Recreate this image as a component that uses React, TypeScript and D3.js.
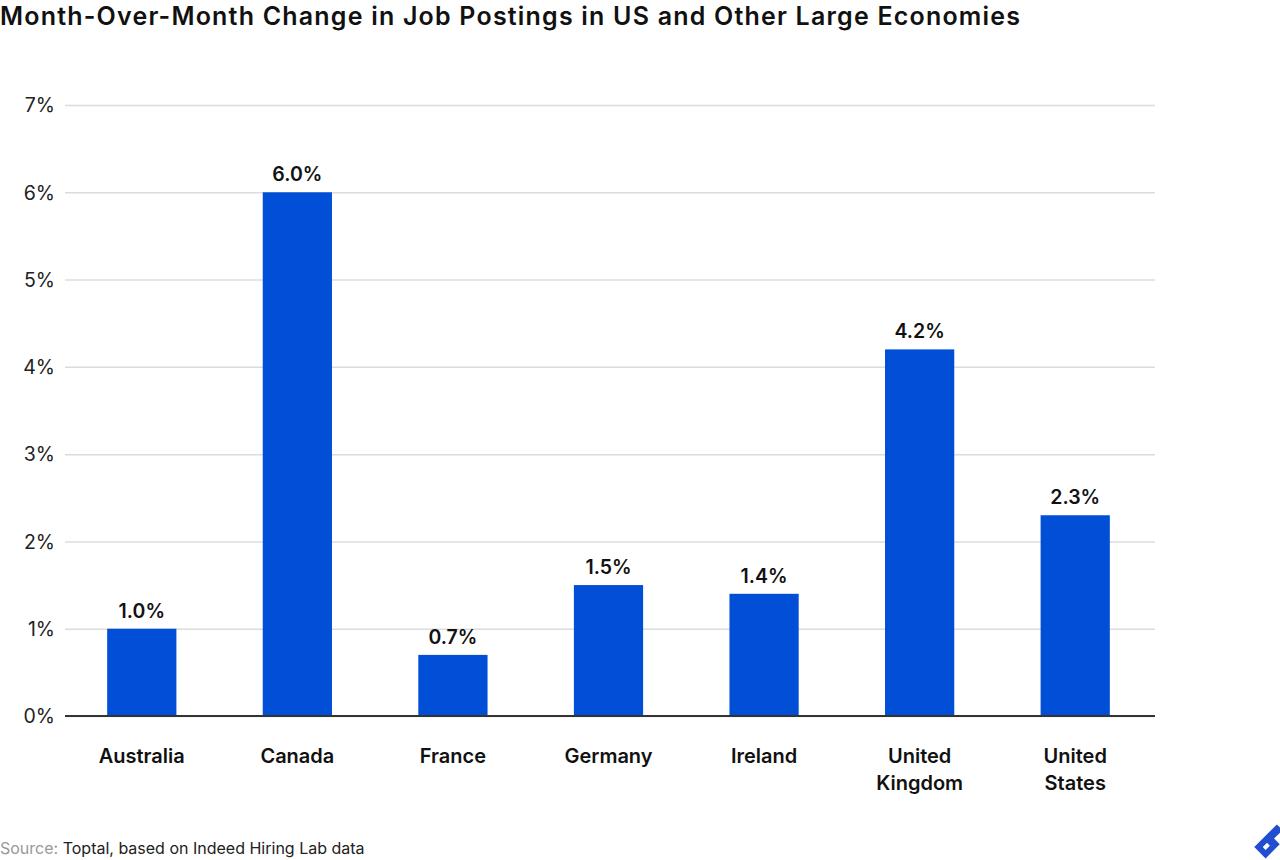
import React, { useEffect, useRef } from 'react';
import { axisLeft, scaleBand, scaleLinear, select } from 'd3';

const countries = ['Australia', 'Canada', 'France', 'Germany', 'Ireland', 'United Kingdom', 'United States'];
const changes = [1.0, 6.0, 0.7, 1.5, 1.4, 4.2, 2.3];
const yTicks = [0, 1, 2, 3, 4, 5, 6, 7];

const FONT = 'Inter, "Open Sans", sans-serif';

const App: React.FC = () => {
  const svgRef = useRef<SVGSVGElement>(null);

  const width = 1280, height = 860;
  const margin = { top: 105, right: 125, bottom: 144, left: 65 };

  useEffect(() => {
    const svg = select(svgRef.current);
    svg.selectAll('*').remove();

    const x = scaleBand<string>()
      .domain(countries)
      .range([margin.left - 1, width - margin.right - 2])
      .paddingInner(0.555)
      .paddingOuter(0.2775);
    const y = scaleLinear().domain([0, 7]).range([height - margin.bottom, margin.top]);

    // title
    svg.append('text')
      .attr('x', 0)
      .attr('y', 25)
      .attr('font-family', FONT)
      .attr('font-size', 25)
      .attr('font-weight', 600)
      .attr('textLength', 1020)
      .attr('lengthAdjust', 'spacing')
      .attr('fill', '#111')
      .text('Month-Over-Month Change in Job Postings in US and Other Large Economies');

    // gridlines + y labels
    const yAxis = svg.append('g')
      .attr('transform', `translate(${margin.left},0)`)
      .call(axisLeft(y).tickValues(yTicks).tickSize(-(width - margin.left - margin.right)).tickPadding(10).tickFormat((d) => `${d}%`));
    yAxis.select('.domain').remove();
    yAxis.selectAll('.tick line').attr('stroke', '#dcdce0').attr('stroke-width', 1.5);
    yAxis.selectAll('.tick text')
      .attr('font-family', FONT)
      .attr('font-size', 19.5)
      .attr('fill', '#222')
      .attr('dy', '0.35em');

    // bars
    svg.append('g')
      .selectAll('rect')
      .data(countries)
      .join('rect')
      .attr('x', (d) => x(d)!)
      .attr('width', x.bandwidth())
      .attr('y', (d, i) => y(changes[i]))
      .attr('height', (d, i) => y(0) - y(changes[i]))
      .attr('fill', '#004fd6');

    // value labels
    svg.append('g')
      .selectAll('text')
      .data(countries)
      .join('text')
      .attr('x', (d) => x(d)! + x.bandwidth() / 2)
      .attr('y', (d, i) => y(changes[i]) - 11)
      .attr('text-anchor', 'middle')
      .attr('font-family', FONT)
      .attr('font-size', 19.5)
      .attr('font-weight', 600)
      .attr('fill', '#111')
      .text((d, i) => `${changes[i].toFixed(1)}%`);

    // baseline
    svg.append('line')
      .attr('x1', margin.left)
      .attr('x2', width - margin.right)
      .attr('y1', y(0))
      .attr('y2', y(0))
      .attr('stroke', '#333')
      .attr('stroke-width', 2);

    // category labels
    const cat = svg.append('g')
      .selectAll('text')
      .data(countries)
      .join('text')
      .attr('x', (d) => x(d)! + x.bandwidth() / 2)
      .attr('y', y(0) + 47)
      .attr('text-anchor', 'middle')
      .attr('font-family', FONT)
      .attr('font-size', 20)
      .attr('font-weight', 600)
      .attr('fill', '#111');
    cat.each(function (d) {
      const words = d.split(' ');
      const t = select(this);
      words.forEach((w, i) => {
        t.append('tspan')
          .attr('x', x(d)! + x.bandwidth() / 2)
          .attr('dy', i === 0 ? 0 : 27)
          .text(w);
      });
    });

    // source
    const src = svg.append('text')
      .attr('x', 0)
      .attr('y', 854)
      .attr('font-family', FONT)
      .attr('font-size', 16)
      .attr('fill', '#222');
    src.append('tspan').attr('fill', '#999').text('Source: ');
    src.append('tspan').text('Toptal, based on Indeed Hiring Lab data');

    // logo
    const logo = svg.append('g').attr('transform', 'translate(1267,840) rotate(45)');
    logo.append('path')
      .attr('d', 'M-4,-18 L4,-18 L4,-6 L12,-6 L12,14 L-4,14 Z M2,2 L2,8 L6,8 L6,2 Z')
      .attr('fill', '#204ecf')
      .attr('fill-rule', 'evenodd');
  }, []);

  return (
    <svg
      ref={svgRef}
      width={width}
      height={height}
      style={{ position: 'absolute', left: 0, top: 0, background: '#fff' }}
    />
  );
};

export default App;
